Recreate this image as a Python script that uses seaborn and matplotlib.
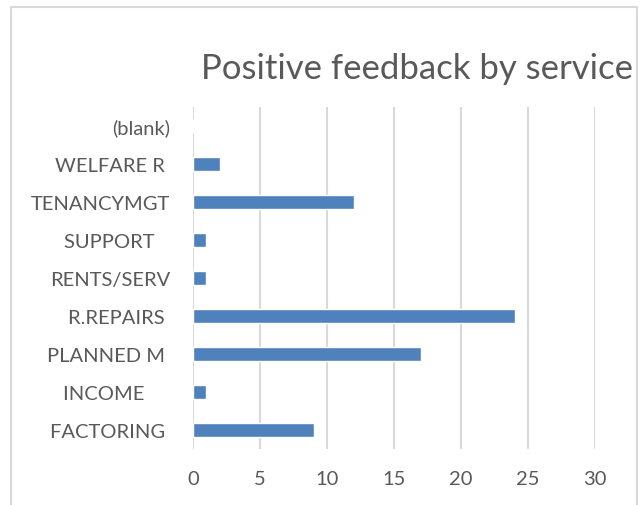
import matplotlib
matplotlib.use("Agg")
import matplotlib.pyplot as plt
from matplotlib.lines import Line2D
import seaborn as sns
import pandas as pd

categories = ["(blank)", "WELFARE R ", "TENANCYMGT", "SUPPORT   ", "RENTS/SERV",
              "R.REPAIRS ", "PLANNED M ", "INCOME     ", "FACTORING "]
values = [0, 2, 12, 1, 1, 24, 17, 1, 9]
xticks = [0, 5, 10, 15, 20, 25, 30]
title = "Positive feedback by service"

sns.set_theme(style="white")
plt.rcParams["font.family"] = ["Lato", "DejaVu Sans"]

TXT = "#595959"
GRID = "#d9d9d9"
BAR = "#4f81bd"

df = pd.DataFrame({"service": categories, "count": values})

fig = plt.figure(figsize=(6.4, 5.06), dpi=100)
ax = fig.add_axes([193/640, 1-450/506, (595-193)/640, (450-108)/506])
sns.barplot(data=df, y="service", x="count", orient="h", color=BAR,
            width=0.37, saturation=1, ax=ax, order=categories)

ax.set_xlim(0, 30)
ax.set_xticks(xticks)
ax.set_xlabel("")
ax.set_ylabel("")
for s in ax.spines.values():
    s.set_visible(False)
ax.xaxis.grid(True, color=GRID, linewidth=1.5)
ax.set_axisbelow(True)
ax.tick_params(axis="both", length=0, colors=TXT, labelsize=14.5)
ax.tick_params(axis="y", pad=16.5)
ax.tick_params(axis="x", pad=15)
for t in ax.get_yticklabels() + ax.get_xticklabels():
    t.set_color(TXT)

fig.text(417/640, 1-79/506, title, ha="center", va="baseline",
         fontsize=25, color=TXT, fontweight="normal")

# outer chart border
for (x0, y0, x1, y1) in [(11, 8, 637, 8), (11, 8, 11, 506), (637, 8, 637, 506)]:
    fig.add_artist(Line2D([x0/640, x1/640], [1-y0/506, 1-y1/506],
                          color=GRID, linewidth=1.5, transform=fig.transFigure))

fig.savefig("out.png", dpi=100)
